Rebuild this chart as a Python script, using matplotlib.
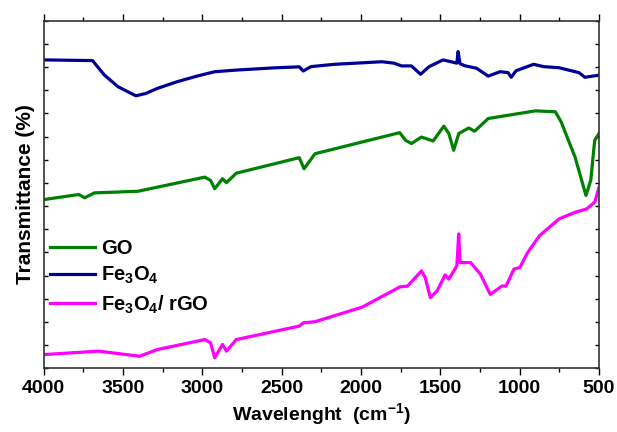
import matplotlib
matplotlib.use("Agg")
import matplotlib.pyplot as plt
from matplotlib.ticker import MultipleLocator

# FTIR spectra (wavenumber, transmittance in arb. units)
go_wn = [4000, 3779, 3742, 3680, 3406, 3233, 2985, 2948, 2922, 2873, 2848, 2786,
         2389, 2359, 2290, 1756, 1719, 1682, 1619, 1545, 1478, 1446, 1416, 1384,
         1321, 1284, 1198, 1073, 900, 775, 738, 701, 651, 582, 552, 527, 500]
go_t = [72.8, 75.0, 73.6, 75.7, 76.4, 78.9, 82.5, 81.1, 77.5, 81.8, 80.1, 84.2,
        90.9, 86.1, 92.6, 101.7, 98.4, 97.0, 99.8, 98.1, 104.5, 101.3, 94.1, 101.3,
        103.7, 102.3, 107.8, 109.2, 111.1, 110.7, 106.3, 99.8, 91.2, 74.6, 81.1, 98.4, 101.3]

fe_wn = [4000, 3692, 3618, 3531, 3419, 3357, 3283, 3158, 3034, 2922, 2786, 2538,
         2389, 2364, 2315, 2166, 1868, 1793, 1744, 1682, 1625, 1570, 1483, 1396,
         1388, 1376, 1347, 1272, 1198, 1123, 1073, 1053, 1023, 912, 850, 751, 626,
         589, 500]
fe_t = [133.1, 132.8, 126.6, 121.5, 117.6, 118.6, 120.8, 123.7, 126.1, 128.0, 128.7, 129.7,
        130.1, 128.3, 130.2, 131.2, 132.3, 131.7, 130.5, 130.5, 126.9, 130.2, 133.1, 131.7,
        136.7, 131.5, 130.6, 129.5, 126.1, 128.0, 127.6, 125.6, 128.4, 131.2, 130.2, 129.7, 127.6,
        125.6, 126.5]

fe_rgo_wn = [4000, 3655, 3395, 3283, 2985, 2948, 2922, 2873, 2848, 2786, 2389, 2364,
             2290, 1992, 1793, 1756, 1706, 1619, 1595, 1563, 1520, 1470, 1446, 1396,
             1384, 1376, 1309, 1247, 1185, 1111, 1086, 1036, 999, 949, 875, 751, 651,
             577, 527, 500]
fe_rgo_t = [5.9, 7.4, 5.2, 8.1, 12.4, 11.0, 4.5, 10.3, 7.4, 12.4, 18.2, 19.6,
            20.1, 26.4, 33.7, 35.1, 35.5, 42.0, 39.1, 30.5, 33.4, 40.3, 38.5, 44.2,
            58.0, 45.6, 45.6, 40.6, 31.9, 35.5, 35.5, 42.8, 43.5, 50.0, 57.2, 64.5, 67.3,
            68.8, 71.7, 78.0]

labels = ["GO", "Fe$_3$O$_4$", "Fe$_3$O$_4$/ rGO"]
colors = ["#008000", "#000099", "#ff00ff"]

plt.rcParams["font.family"] = ["Liberation Sans", "DejaVu Sans"]
plt.rcParams["font.weight"] = "bold"
plt.rcParams["mathtext.fontset"] = "custom"
plt.rcParams["mathtext.rm"] = "Liberation Sans:bold"
plt.rcParams["mathtext.bf"] = "Liberation Sans:bold"
plt.rcParams["mathtext.default"] = "bf"

fig = plt.figure(figsize=(6.17, 4.32), dpi=100)
ax = fig.add_axes([0.0708, 0.1475, 0.90, 0.8045])

for wn, t, lab, c in zip([go_wn, fe_wn, fe_rgo_wn], [go_t, fe_t, fe_rgo_t], labels, colors):
    ax.plot(wn, t, color=c, lw=2.3, label=lab)

ax.set_xlim(4000, 500)
ax.set_ylim(0, 150)
ax.xaxis.set_major_locator(MultipleLocator(500))
ax.xaxis.set_minor_locator(MultipleLocator(250))
ax.yaxis.set_major_locator(MultipleLocator(10))
ax.tick_params(axis="x", which="both", direction="out", top=True, labelsize=14,
               width=1, length=5)
ax.tick_params(axis="x", which="minor", length=3)
ax.tick_params(axis="y", direction="in", right=True, labelleft=False, length=3, width=1)
for s in ax.spines.values():
    s.set_linewidth(1.2)
    s.set_color("#333333")

ax.set_xlabel("Wavelenght  (cm$^{-1}$)", fontsize=14, fontweight="bold", labelpad=3)
ax.set_ylabel("Transmittance (%)", fontsize=15, fontweight="bold", labelpad=6)

ax.legend(loc="upper left", bbox_to_anchor=(0.012, 0.372), frameon=False, fontsize=14.5,
          handlelength=2.2, handletextpad=0.3, labelspacing=0.35, borderpad=0,
          borderaxespad=0)

fig.savefig("out.png", dpi=100)
